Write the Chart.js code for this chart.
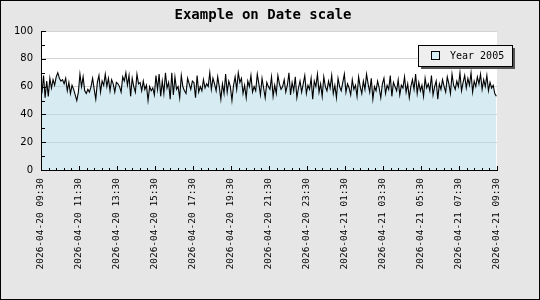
<!DOCTYPE html>
<html>
<head>
<meta charset="utf-8">
<script src="https://cdn.jsdelivr.net/npm/chart.js@4"></script>
<style>
  html, body { margin: 0; padding: 0; background: #e6e6e6; }
</style>
</head>
<body>
<canvas id="chart" width="540" height="300"></canvas>
<script>
// Chart data
const chartTitle = 'Example on Date scale';
const seriesName = 'Year 2005';
const firstMinute = 3;     // first sample, minutes after 2026-04-20 09:30
const stepMinutes = 5;     // one sample every 5 minutes
const values = [
  55, 68, 52, 64, 53, 66, 59, 65, 61, 67, 70, 66,
  64, 65, 62, 66, 57, 63, 55, 61, 58, 54, 50, 56,
  69, 60, 67, 57, 55, 58, 56, 60, 66, 58, 51, 63,
  68, 56, 64, 61, 69, 60, 66, 57, 65, 62, 56, 63,
  62, 60, 56, 67, 64, 70, 61, 68, 53, 66, 60, 56,
  69, 62, 63, 57, 64, 58, 61, 50, 60, 57, 59, 54,
  68, 58, 69, 53, 64, 55, 70, 59, 63, 51, 70, 54,
  67, 58, 60, 52, 68, 60, 57, 55, 66, 62, 58, 64,
  63, 52, 68, 56, 60, 57, 65, 59, 62, 60, 70, 58,
  66, 62, 57, 67, 60, 51, 62, 55, 69, 56, 64, 60,
  50, 61, 67, 58, 70, 63, 66, 55, 61, 52, 64, 60,
  68, 56, 60, 57, 69, 62, 54, 66, 59, 52, 63, 60,
  58, 67, 53, 61, 55, 68, 62, 58, 60, 65, 56, 61,
  70, 54, 63, 57, 67, 52, 59, 64, 56, 62, 68, 55,
  61, 58, 66, 51, 64, 60, 69, 56, 62, 53, 67, 60,
  57, 64, 59, 68, 55, 61, 52, 66, 60, 57, 63, 69,
  56, 62, 59, 54, 65, 58, 61, 53, 67, 60, 55, 64,
  58, 69, 62, 56, 66, 51, 60, 57, 64, 59, 52, 62,
  66, 55, 61, 58, 68, 53, 63, 60, 57, 65, 54, 61,
  59, 67, 56, 62, 52, 60, 65, 58, 69, 55, 63, 57,
  61, 53, 66, 59, 62, 57, 68, 54, 60, 64, 51, 62,
  58, 65, 60, 56, 67, 62, 55, 69, 61, 58, 64, 60,
  70, 57, 63, 68, 59, 66, 61, 70, 56, 64, 60, 67,
  62, 69, 58, 65, 60, 68, 57, 63, 59, 61, 55, 53
];
const tickLabels = [
  '2026-04-20 09:30', '2026-04-20 11:30', '2026-04-20 13:30', '2026-04-20 15:30',
  '2026-04-20 17:30', '2026-04-20 19:30', '2026-04-20 21:30', '2026-04-20 23:30',
  '2026-04-21 01:30', '2026-04-21 03:30', '2026-04-21 05:30', '2026-04-21 07:30',
  '2026-04-21 09:30'
];
const tickStep = 120;      // minutes between labelled ticks
const yMax = 100;
const yStep = 20;

const points = values.map((v, i) => ({ x: firstMinute + i * stepMinutes, y: v }));

// background, axes with inward ticks, title, legend, outer frame
const decor = {
  id: 'decor',
  beforeDraw(chart) {
    const { ctx, chartArea: a } = chart;
    ctx.save();
    ctx.fillStyle = '#e6e6e6';
    ctx.fillRect(0, 0, chart.width, chart.height);
    ctx.fillStyle = '#ffffff';
    ctx.fillRect(a.left, a.top, a.right - a.left, a.bottom - a.top);
    ctx.restore();
  },
  afterDraw(chart) {
    const { ctx, chartArea: a, scales } = chart;
    const xs = scales.x, ys = scales.y;
    ctx.save();
    ctx.strokeStyle = '#000';
    ctx.lineWidth = 1;
    ctx.beginPath();
    ctx.moveTo(a.left + 0.5, a.top);
    ctx.lineTo(a.left + 0.5, a.bottom + 0.5);
    ctx.lineTo(a.right + 1, a.bottom + 0.5);
    // y ticks, every 10 with majors on the labels
    for (let v = 0; v <= yMax; v += yStep / 2) {
      const y = Math.round(ys.getPixelForValue(v)) + 0.5;
      const len = v % yStep === 0 ? 4 : 3;
      ctx.moveTo(a.left, y);
      ctx.lineTo(a.left + len + 1, y);
    }
    // x ticks, minor ones every 24 minutes
    for (let m = 0; m <= xs.max; m += 24) {
      const x = Math.round(xs.getPixelForValue(m)) + 0.5;
      const len = m % tickStep === 0 ? 4 : 2;
      ctx.moveTo(x, a.bottom);
      ctx.lineTo(x, a.bottom - len);
    }
    ctx.stroke();

    // title
    ctx.fillStyle = '#000';
    ctx.font = 'bold 14px "DejaVu Sans Mono"';
    ctx.textAlign = 'center';
    ctx.textBaseline = 'alphabetic';
    ctx.fillText(chartTitle, 263, 19);

    // legend with shadow
    const lx = 418, ly = 45, lw = 94, lh = 21;
    ctx.fillStyle = '#555';
    ctx.fillRect(lx + 3, ly + 3, lw, lh);
    ctx.fillStyle = '#eeeeee';
    ctx.fillRect(lx, ly, lw, lh);
    ctx.strokeStyle = '#000';
    ctx.strokeRect(lx + 0.5, ly + 0.5, lw, lh);
    ctx.fillStyle = 'rgb(214,235,242)';
    ctx.fillRect(431, 51, 9, 9);
    ctx.strokeRect(431.5, 51.5, 8, 8);
    ctx.fillStyle = '#000';
    ctx.font = '10px "DejaVu Sans Mono"';
    ctx.textAlign = 'left';
    ctx.fillText(seriesName, 450, 59);

    // outer frame
    ctx.strokeStyle = '#000';
    ctx.strokeRect(0.5, 0.5, chart.width - 1, chart.height - 1);
    ctx.restore();
  }
};

const ctx = document.getElementById('chart').getContext('2d');
new Chart(ctx, {
  type: 'line',
  data: {
    datasets: [{
      label: seriesName,
      data: points,
      borderColor: '#000',
      borderWidth: 1.1,
      backgroundColor: 'rgba(173,216,230,0.5)',
      fill: 'origin',
      pointRadius: 0,
      tension: 0
    }]
  },
  options: {
    responsive: false,
    animation: false,
    layout: { padding: { top: 31, right: 43, left: 0, bottom: 0 } },
    plugins: {
      legend: { display: false },
      title: { display: false },
      tooltip: { enabled: false }
    },
    scales: {
      x: {
        type: 'linear',
        min: 0,
        max: tickStep * (tickLabels.length - 1),
        afterFit: s => { s.height = 130; },
        ticks: {
          stepSize: tickStep,
          autoSkip: false,
          maxRotation: 90,
          minRotation: 90,
          padding: 8,
          color: '#000',
          font: { family: 'DejaVu Sans Mono', size: 9.5 },
          callback: v => tickLabels[v / tickStep]
        },
        grid: { display: false, drawTicks: false },
        border: { display: false }
      },
      y: {
        min: 0,
        max: yMax,
        afterFit: s => { s.width = 41; },
        ticks: {
          stepSize: yStep,
          padding: 8,
          color: '#000',
          font: { family: 'DejaVu Sans', size: 10 }
        },
        grid: { color: '#d4d4d4', drawTicks: false },
        border: { display: false }
      }
    }
  },
  plugins: [decor]
});
</script>
</body>
</html>
